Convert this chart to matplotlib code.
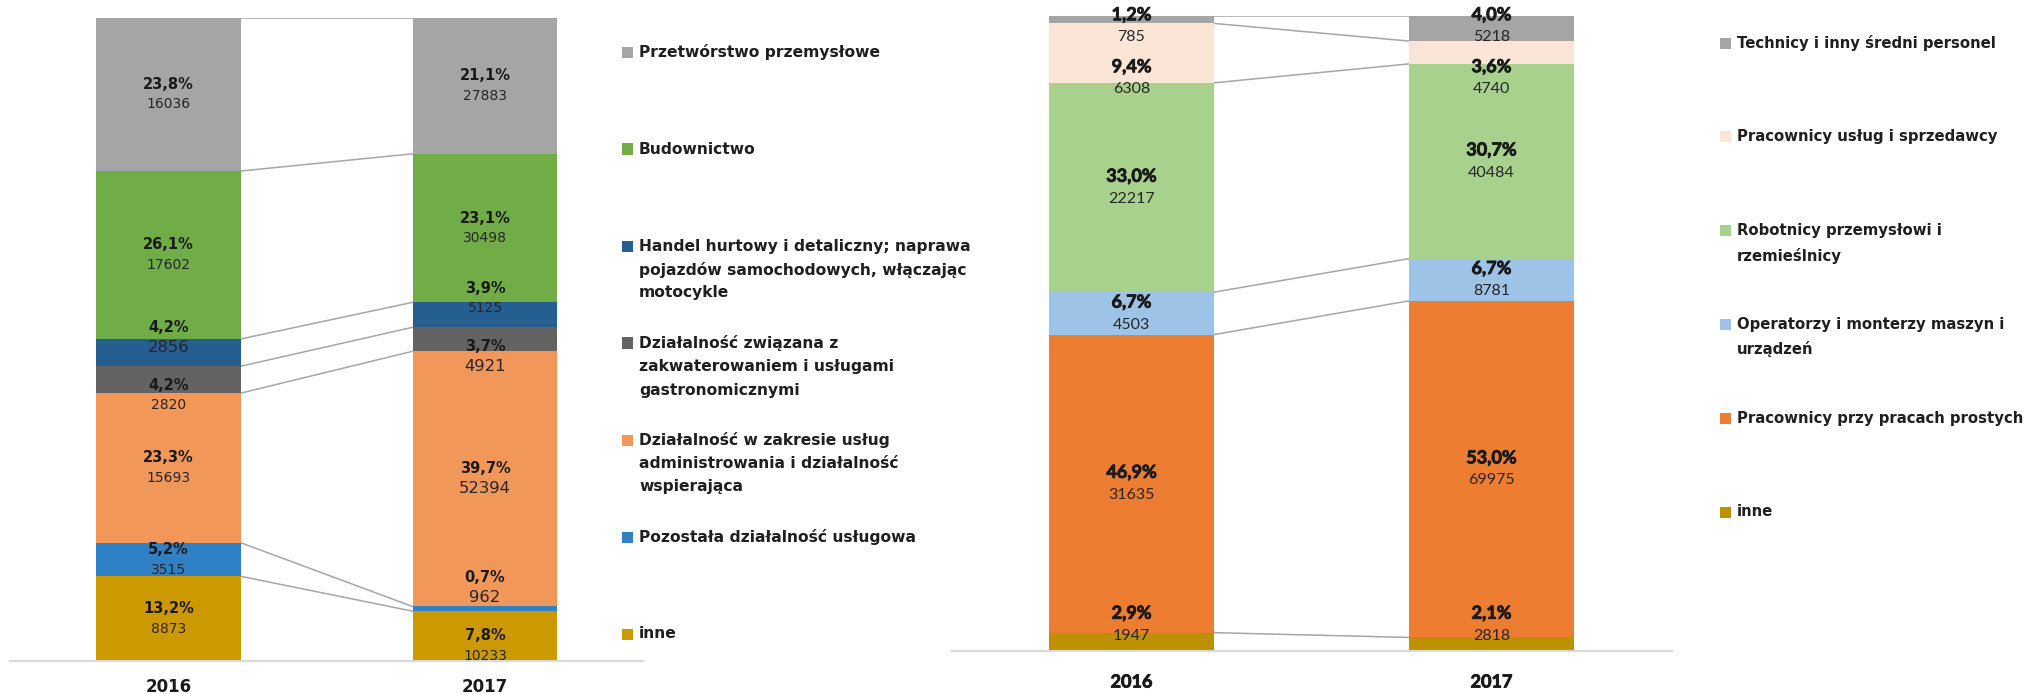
import matplotlib

matplotlib.use("Agg")
import matplotlib.pyplot as plt
from matplotlib import font_manager as fm
from matplotlib import patheffects as pe
from matplotlib.patches import Rectangle
import numpy as np

YEARS = ["2016", "2017"]

# left panel: workers by economic section (stack order bottom -> top)
SECTORS = [
    "inne",
    "Pozostała działalność usługowa",
    "Działalność w zakresie usług\nadministrowania i działalność\nwspierająca",
    "Działalność związana z\nzakwaterowaniem i usługami\ngastronomicznymi",
    "Handel hurtowy i detaliczny; naprawa\npojazdów samochodowych, włączając\nmotocykle",
    "Budownictwo",
    "Przetwórstwo przemysłowe",
]
SECTOR_2016 = [8873, 3515, 15693, 2820, 2856, 17602, 16036]
SECTOR_2017 = [10233, 962, 52394, 4921, 5125, 30498, 27883]
SECTOR_COLORS = ["#CC9900", "#3080C6", "#F1975A", "#636363", "#255E91", "#70AD47", "#A5A5A5"]
# counts that the original shows in a larger type
SECTOR_BIG = {2856, 4921, 52394, 962}

# right panel: workers by occupation group (bottom -> top)
OCCUPATIONS = [
    "inne",
    "Pracownicy przy pracach prostych",
    "Operatorzy i monterzy maszyn i\nurządzeń",
    "Robotnicy przemysłowi i\nrzemieślnicy",
    "Pracownicy usług i sprzedawcy",
    "Technicy i inny średni personel",
]
OCC_2016 = [1947, 31635, 4503, 22217, 6308, 785]
OCC_2017 = [2818, 69975, 8781, 40484, 4740, 5218]
OCC_COLORS = ["#BF9000", "#ED7D31", "#9DC3E6", "#A9D18E", "#FBE5D6", "#A5A5A5"]

W, H = 2026, 694
BAR_W = 0.458
PX = 0.72  # points per pixel at dpi 100
INK = "#1a1a1a"


def cfont(size, bold=False):
    # Calibri-like face for the right panel
    return fm.FontProperties(family=["Lato", "DejaVu Sans"], size=size,
                             weight="bold" if bold else "normal")


def dfont(size, bold=False):
    return fm.FontProperties(family="DejaVu Sans", size=size,
                             weight="bold" if bold else "normal")


fig = plt.figure(figsize=(W / 100, H / 100), dpi=100)


def box(x0, y0, x1, y1):
    return [x0 / W, 1 - y1 / H, (x1 - x0) / W, (y1 - y0) / H]


def spread(centers, sep, lo, hi):
    # push overlapping labels apart, keep them inside the bar (Excel-like)
    c = list(centers)
    for _ in range(200):
        for i in range(len(c) - 1):
            gap = c[i + 1] - c[i]
            if gap < sep:
                d = (sep - gap) / 2
                c[i] -= d
                c[i + 1] += d
        c = [min(max(v, lo), hi) for v in c]
    return c


def fmt_pct(p):
    return f"{p:.1f}".replace(".", ",") + "%"


def panel(ax, series, colors, font, pct_size, num_size, gap_px,
          sep_px, top_px, bot_px, year_px, year_size, big=(), big_size=None,
          heavy=0.0):
    fx = [pe.withStroke(linewidth=heavy, foreground=INK)] if heavy else []
    ppu = ax.get_position().height * H / 100
    shares = [np.array(s) / sum(s) * 100 for s in series]
    tops = []
    for xi, (sh, counts) in enumerate(zip(shares, series)):
        bottoms = np.concatenate([[0], np.cumsum(sh)[:-1]])
        ax.bar(xi, sh, bottom=bottoms, width=BAR_W, color=colors,
               linewidth=0, zorder=2)
        tops.append(np.cumsum(sh))
        pos = spread(bottoms + sh / 2, sep_px / ppu, bot_px / ppu,
                     100 - top_px / ppu)
        for p, n, y in zip(sh, counts, pos):
            ax.annotate(fmt_pct(p), (xi, y), xytext=(0, gap_px / 2 * PX),
                        textcoords="offset points", ha="center", va="center",
                        fontproperties=font(pct_size, True), color=INK,
                        zorder=4, path_effects=fx)
            ax.annotate(str(n), (xi, y), xytext=(0, -gap_px / 2 * PX),
                        textcoords="offset points", ha="center", va="center",
                        fontproperties=font(big_size if n in big else num_size),
                        color="#262626", zorder=4)
    # series lines between the two bars
    for b0, b1 in zip(tops[0], tops[1]):
        ax.plot([BAR_W / 2, 1 - BAR_W / 2], [b0, b1], color="#A6A6A6",
                lw=1.1, zorder=1)
    for xi, yr in enumerate(YEARS):
        ax.annotate(yr, (xi, 0), xycoords=("data", "axes fraction"),
                    xytext=(0, -year_px * PX), textcoords="offset points",
                    ha="center", va="center", fontproperties=font(year_size, True),
                    color=INK, path_effects=fx)
    ax.set_xlim(-0.5, 1.5)
    ax.set_ylim(0, 100)
    for s in ("top", "left", "right"):
        ax.spines[s].set_visible(False)
    ax.spines["bottom"].set_color("#D9D9D9")
    ax.spines["bottom"].set_linewidth(1.5)
    ax.set_xticks([])
    ax.set_yticks([])


def legend(labels, colors, x_mark, x_text, y0, step, line_h, size):
    for i, (lab, col) in enumerate(zip(labels[::-1], colors[::-1])):
        yc = y0 + i * step
        fig.patches.append(Rectangle((x_mark / W, 1 - (yc + 5.5) / H),
                                     11 / W, 11 / H, transform=fig.transFigure,
                                     facecolor=col, edgecolor="none"))
        for j, line in enumerate(lab.split("\n")):
            fig.text(x_text / W, 1 - (yc + j * line_h) / H, line,
                     ha="left", va="center", fontproperties=dfont(size, True),
                     color="#1f1f1f")


ax1 = fig.add_axes(box(10.25, 18, 643.25, 661))
panel(ax1, [SECTOR_2016, SECTOR_2017], SECTOR_COLORS, dfont,
      10.5, 10, 20, 58, 10, 15, 26, 12, big=SECTOR_BIG, big_size=11.8)
legend(SECTORS, SECTOR_COLORS, 622, 639, 52, 97, 23.5, 11.2)

ax2 = fig.add_axes(box(951.5, 16, 1671.5, 651))
panel(ax2, [OCC_2016, OCC_2017], OCC_COLORS, cfont,
      13, 11.5, 22.5, 52, 10, 26.5, 31, 13, heavy=0.6)
legend(OCCUPATIONS, OCC_COLORS, 1720, 1737, 43, 93.8, 25, 10.7)

fig.savefig("out.png", dpi=100)
